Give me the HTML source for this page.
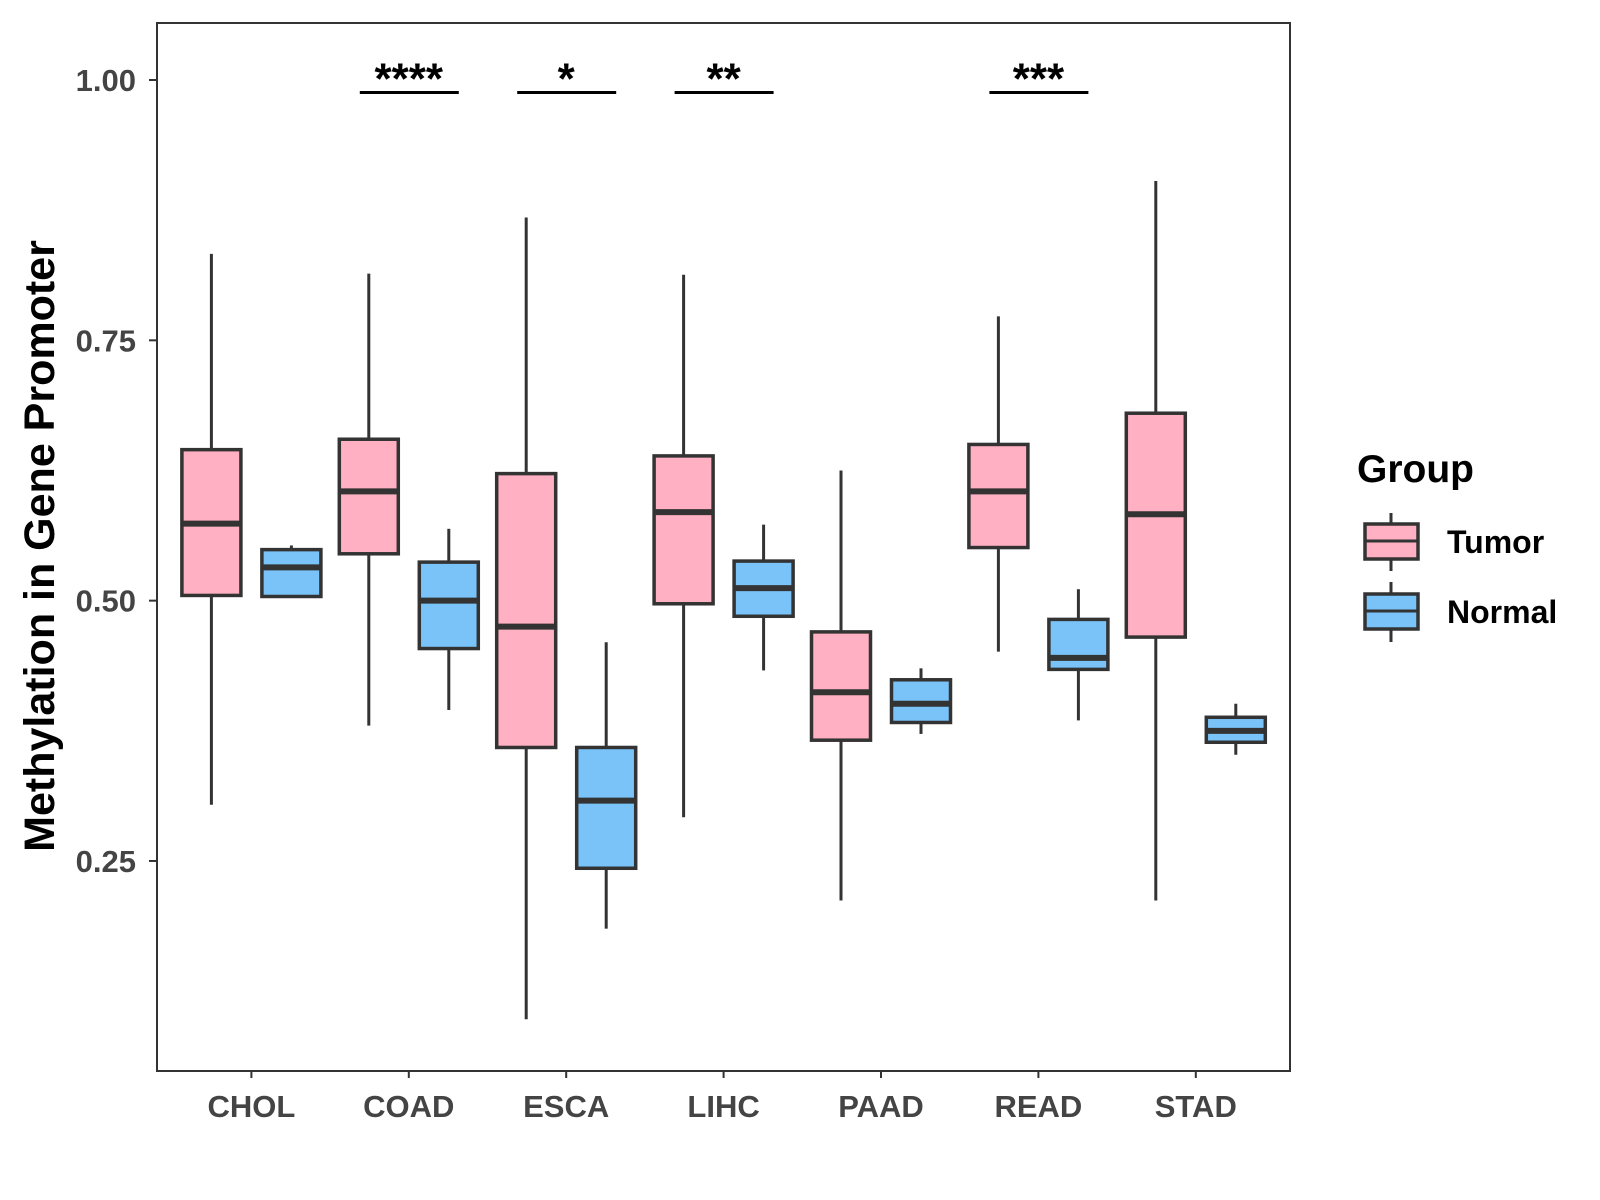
<!DOCTYPE html>
<html><head><meta charset="utf-8"><style>
body{margin:0;background:#fff}
svg{display:block;font-family:"Liberation Sans",Arial,sans-serif;font-weight:bold}
</style></head><body>
<svg id="chart" width="1600" height="1200" viewBox="0 0 1600 1200">
<rect x="157" y="23" width="1133" height="1048" fill="#fff" stroke="#333" stroke-width="2"/>
<g id="boxes"></g>
<g id="axes"></g>
<text transform="translate(54,546) rotate(-90)" text-anchor="middle" font-size="43" fill="#000">Methylation in Gene Promoter</text>
<g>
<text x="1357" y="482" font-size="39" fill="#000">Group</text>
<g>
<line x1="1391" y1="513" x2="1391" y2="571" stroke="#333" stroke-width="3"/>
<rect x="1365" y="524" width="53" height="35" fill="#FFB0C3" stroke="#333" stroke-width="3.5"/>
<line x1="1365" y1="541" x2="1418" y2="541" stroke="#333" stroke-width="3"/>
<text x="1447" y="553" font-size="32" fill="#000">Tumor</text>
</g>
<g>
<line x1="1391" y1="582" x2="1391" y2="642" stroke="#333" stroke-width="3"/>
<rect x="1365" y="594" width="53" height="35" fill="#79C3F9" stroke="#333" stroke-width="3.5"/>
<line x1="1365" y1="611" x2="1418" y2="611" stroke="#333" stroke-width="3"/>
<text x="1447" y="623" font-size="32" fill="#000">Normal</text>
</g>
</g>
</svg>
<script>
const categories = ["CHOL","COAD","ESCA","LIHC","PAAD","READ","STAD"];
// [lowerWhisker, Q1, median, Q3, upperWhisker]
const tumorStats = [
 [0.304,0.505,0.574,0.645,0.833],
 [0.380,0.545,0.605,0.655,0.814],
 [0.098,0.359,0.475,0.622,0.868],
 [0.292,0.497,0.585,0.639,0.813],
 [0.212,0.366,0.412,0.470,0.625],
 [0.451,0.551,0.605,0.650,0.773],
 [0.212,0.465,0.583,0.680,0.903]
];
const normalStats = [
 [0.503,0.504,0.532,0.549,0.553],
 [0.395,0.454,0.500,0.537,0.569],
 [0.185,0.243,0.308,0.359,0.460],
 [0.433,0.485,0.512,0.538,0.573],
 [0.372,0.383,0.401,0.424,0.435],
 [0.385,0.434,0.445,0.482,0.511],
 [0.352,0.364,0.375,0.388,0.401]
];
const sigLabels = ["","****","*","**","","***",""];
const yTicks = [0.25,0.50,0.75,1.00];
const yTickLabels = ["0.25","0.50","0.75","1.00"];
const sigLevel = 0.988;

const NS="http://www.w3.org/2000/svg";
const yScale = v => 80 + (1 - v) * 1041.3;
const xScale = i => 251.4 + i * 157.4;
function mk(tag, attrs, parent){const e=document.createElementNS(NS,tag);for(const k in attrs)e.setAttribute(k,attrs[k]);parent.appendChild(e);return e;}
const boxes=document.getElementById('boxes'), axes=document.getElementById('axes');
const bw=59;
function drawBox(s, cx, fill, name){
  const g=mk('g',{},boxes);
  
  
  mk('line',{x1:cx,x2:cx,y1:yScale(s[4]),y2:yScale(s[3]),stroke:'#333','stroke-width':3},g);
  mk('line',{x1:cx,x2:cx,y1:yScale(s[1]),y2:yScale(s[0]),stroke:'#333','stroke-width':3},g);
  mk('rect',{x:cx-bw/2,y:yScale(s[3]),width:bw,height:yScale(s[1])-yScale(s[3]),fill:fill,stroke:'#333','stroke-width':3.5},g);
  mk('line',{x1:cx-bw/2,x2:cx+bw/2,y1:yScale(s[2]),y2:yScale(s[2]),stroke:'#333','stroke-width':6},g);
}
categories.forEach((c,i)=>{
  const cx=xScale(i);
  drawBox(tumorStats[i], cx-40, '#FFB0C3', 'box-tumor-'+c.toLowerCase());
  drawBox(normalStats[i], cx+40, '#79C3F9', 'box-normal-'+c.toLowerCase());
  if(sigLabels[i]){
    const g=mk('g',{},boxes);
    
    
    mk('line',{x1:cx-49,x2:cx+50,y1:yScale(sigLevel),y2:yScale(sigLevel),stroke:'#000','stroke-width':3},g);
    const t=mk('text',{x:cx,y:yScale(sigLevel)+1,'text-anchor':'middle','font-size':44,fill:'#000'},g);
    t.textContent=sigLabels[i];
  }
  mk('line',{x1:cx,x2:cx,y1:1071,y2:1078,stroke:'#333','stroke-width':2},axes);
  const t=mk('text',{x:cx,y:1117,'text-anchor':'middle','font-size':31,fill:'#444'},axes);
  
  
  t.textContent=c;
});
yTicks.forEach((v,i)=>{
  const y=yScale(v);
  mk('line',{x1:149,x2:157,y1:y,y2:y,stroke:'#333','stroke-width':2},axes);
  const t=mk('text',{x:136,y:y+11,'text-anchor':'end','font-size':31,fill:'#444'},axes);
  
  
  t.textContent=yTickLabels[i];
});
</script>
</body></html>
